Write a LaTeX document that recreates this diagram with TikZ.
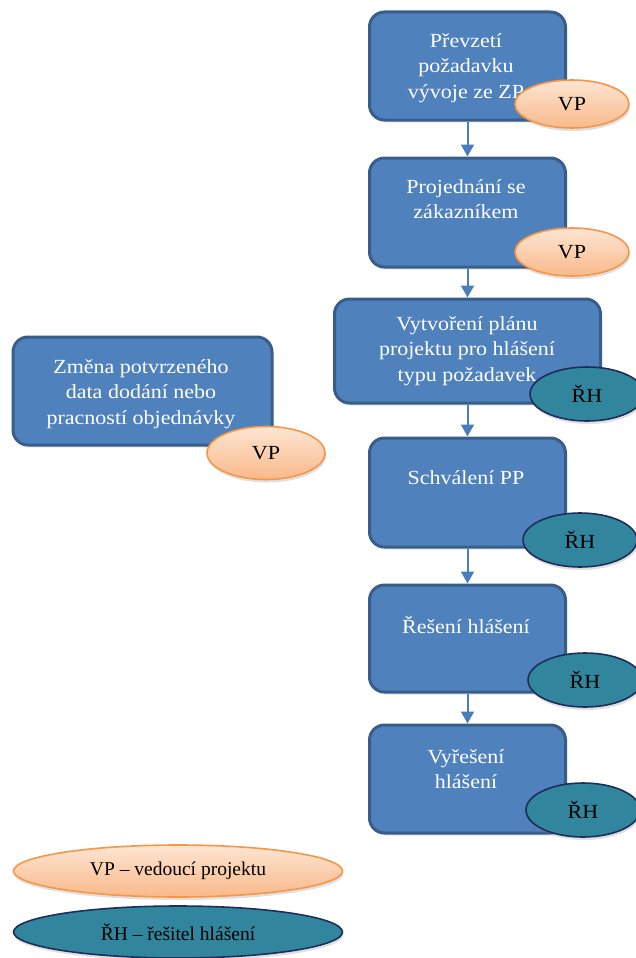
\documentclass[tikz,border=0pt]{standalone}
\usepackage{fontspec}
\setmainfont{Liberation Serif}
\newfontfamily\boxfont{Liberation Serif}[FakeStretch=1.1]
\usetikzlibrary{arrows.meta,shadows,shapes.geometric}

\definecolor{stepblue}{HTML}{4F81BD}
\definecolor{stepedge}{HTML}{385D8A}
\definecolor{flowline}{HTML}{4A7EBB}
\definecolor{vplight}{HTML}{FDE5D2}
\definecolor{vpdark}{HTML}{F9B98A}
\definecolor{vpedge}{HTML}{F79646}
\definecolor{rhfill}{HTML}{31859C}
\definecolor{rhedge}{HTML}{1C2F5C}

\tikzset{
  stepbox/.style={rectangle, rounded corners=15pt, fill=stepblue, draw=stepedge,
    line width=3pt, inner sep=0pt,
    drop shadow={shadow xshift=1pt, shadow yshift=-2.5pt, opacity=0.2}},
  steptext/.style={text=white, align=center, inner sep=0pt,
    font=\boxfont\fontsize{20}{25.5}\selectfont},
  vprole/.style={ellipse, minimum width=114pt, minimum height=48pt, inner sep=0pt,
    top color=vplight, bottom color=vpdark, draw=vpedge, line width=1.6pt,
    font=\boxfont\fontsize{20}{24}\selectfont, text=black,
    drop shadow={shadow xshift=1pt, shadow yshift=-3pt, opacity=0.25}},
  rhrole/.style={ellipse, minimum width=114pt, minimum height=54pt, inner sep=0pt,
    fill=rhfill, draw=rhedge, line width=1.6pt,
    font=\boxfont\fontsize{20}{24}\selectfont, text=black,
    drop shadow={shadow xshift=1pt, shadow yshift=-3pt, opacity=0.25}},
  legendrole/.style={minimum width=329pt, minimum height=52pt,
    font=\fontsize{19.5}{24}\selectfont},
  flow/.style={draw=flowline, line width=2pt,
    -{Triangle[width=13pt,length=12pt]}}
}

\begin{document}
\begin{tikzpicture}[x=1pt,y=-1pt]
\useasboundingbox (0,0) rectangle (636,958);

% process steps
\node[stepbox, minimum width=196pt, minimum height=108pt] (b1) at (467.5,66) {};
\node[stepbox, minimum width=196pt, minimum height=109pt] (b2) at (467.5,212.5) {};
\node[stepbox, minimum width=266pt, minimum height=104pt] (b3) at (467.5,351) {};
\node[stepbox, minimum width=196pt, minimum height=109pt] (b4) at (467.5,492.5) {};
\node[stepbox, minimum width=196pt, minimum height=107pt] (b5) at (467.5,638.5) {};
\node[stepbox, minimum width=196pt, minimum height=108pt] (b6) at (467.5,779) {};
\node[stepbox, minimum width=259pt, minimum height=108pt] (bz) at (142.5,391) {};

% step captions
\node[steptext] (t1) at (466,68) {Převzetí\\požadavku\\vývoje ze ZP};
\node[steptext] (t2) at (466,199) {Projednání se\\zákazníkem};
\node[steptext] (t3) at (467,351) {Vytvoření plánu\\projektu pro hlášení\\typu požadavek};
\node[steptext] (t4) at (466,478) {Schválení PP};
\node[steptext] (t5) at (466,625) {Řešení hlášení};
\node[steptext] (t6) at (466,769) {Vyřešení\\hlášení};
\node[steptext] (tz) at (141,394) {Změna potvrzeného\\data dodání nebo\\pracností objednávky};

% flow between steps
\draw[flow] (b1) -- (b2);
\draw[flow] (b2) -- (b3);
\draw[flow] (b3) -- (b4);
\draw[flow] (b4) -- (b5);
\draw[flow] (b5) -- (b6);

% responsible roles
\node[vprole] (r1) at (572,104) {VP};
\node[vprole] (r2) at (572,252) {VP};
\node[rhrole] (r3) at (587,394) {ŘH};
\node[rhrole] (r4) at (580,540) {ŘH};
\node[rhrole] (r5) at (585,680) {ŘH};
\node[rhrole] (r6) at (583,810) {ŘH};
\node[vprole, minimum height=53pt, minimum width=118pt] (rz) at (266,453) {VP};

% legend
\node[vprole, legendrole] (lvp) at (178,871) {VP – vedoucí projektu};
\node[rhrole, legendrole] (lrh) at (178,932) {ŘH – řešitel hlášení};
\end{tikzpicture}
\end{document}
